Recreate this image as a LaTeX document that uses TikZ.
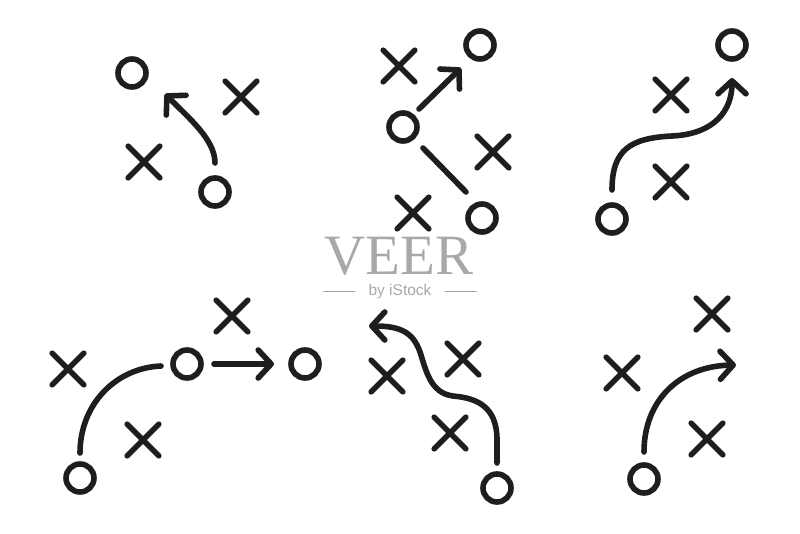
\documentclass[tikz,border=0pt]{standalone}
\usepackage{fontspec}
\newfontfamily\marksans{Liberation Sans}
\newfontfamily\markserif{Liberation Serif}
\usetikzlibrary{shapes.misc,arrows.meta}
\definecolor{ink}{RGB}{30,30,30}
\definecolor{wmgray}{RGB}{168,168,168}
\begin{document}
\begin{tikzpicture}[x=1pt,y=-1pt]
	\def\lw{5.6pt}
	\tikzstyle{player} = [draw=ink, circle, line width=\lw, minimum size=28pt, inner sep=0pt];
	\tikzstyle{rival} = [draw=ink, cross out, line width=\lw, line cap=round, minimum size=26pt, inner sep=0pt];
	\tikzstyle{route} = [draw=ink, line width=\lw, line cap=round, line join=round];
	\tikzstyle{run} = [route, -{Straight Barb[length=13pt,width=28pt,round]}];
	\useasboundingbox (0,0) rectangle (800,533);
	% players
	\foreach \n/\x/\y in {1a/132/73, 1b/215/192, 2a/480/45, 2b/403/127, 2c/482/218,
		3a/732/45, 3b/612/219, 4a/187/364, 4b/305/364, 4c/80/478, 5a/497/488, 6a/644/479}
	{
		\node[player,name=p\n] at (\x,\y) {};
	}
	% rivals
	\foreach \n/\x/\y in {1a/241/97, 1b/144/162, 2a/399/66, 2b/493/152, 2c/413/213,
		3a/671/95, 3b/671/182, 4a/232/316, 4b/68/369, 4c/143/440,
		5a/463/359, 5b/387/376, 5c/450/433, 6a/712/314, 6b/622/373, 6c/707/439}
	{
		\node[rival,name=x\n] at (\x,\y) {};
	}
	% route ends
	\coordinate (r1s) at (215,163);
	\coordinate (r1e) at (165,94);
	\coordinate (r2s) at (419,109);
	\coordinate (r2e) at (461,68);
	\coordinate (l2s) at (423,148);
	\coordinate (l2e) at (466,192);
	\coordinate (r3s) at (612,190);
	\coordinate (r3e) at (732,78);
	\coordinate (r4s) at (214,364);
	\coordinate (r4e) at (274,364);
	\coordinate (l4s) at (80,453);
	\coordinate (l4e) at (161,366);
	\coordinate (r5s) at (497,463);
	\coordinate (r5e) at (369,326);
	\coordinate (r6s) at (644,452);
	\coordinate (r6e) at (736,365);
	% routes
	\draw[run] (r1s) .. controls (215,140) and (190,119) .. (r1e);
	\draw[run] (r2s) -- (r2e);
	\draw[route] (l2s) -- (l2e);
	\draw[run] (r3s) .. controls (612,150) and (630,138) .. (672,136)
		.. controls (715,134) and (732,110) .. (r3e);
	\draw[run] (r4s) -- (r4e);
	\draw[route] (l4s) .. controls (80,405) and (115,368) .. (l4e);
	\draw[run] (r5s) -- (497,440) .. controls (497,405) and (475,398) .. (453,396)
		.. controls (430,393) and (426,370) .. (420,352)
		.. controls (413,332) and (400,326) .. (r5e);
	\draw[run] (r6s) .. controls (644,400) and (680,366) .. (r6e);
	% watermark
	\node[text=wmgray, inner sep=0pt, anchor=base] (veer) at (399,274) {\markserif\fontsize{57}{57}\selectfont VEER};
	\node[text=wmgray, inner sep=0pt] (by) at (400,291) {\marksans\fontsize{15.5}{15.5}\selectfont by iStock};
	\draw[wmgray, line width=1pt] (by.west) ++(-13pt,0) -- ++(-32pt,0);
	\draw[wmgray, line width=1pt] (by.east) ++(13pt,0) -- ++(32pt,0);
\end{tikzpicture}
\end{document}
